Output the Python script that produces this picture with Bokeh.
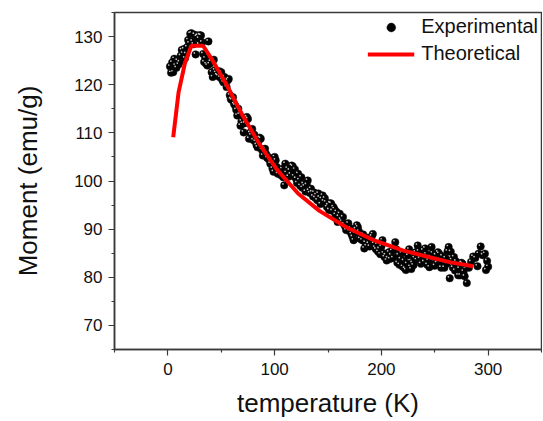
from bokeh.plotting import figure
from bokeh.models import FixedTicker, Legend, LegendItem, ColumnDataSource
from bokeh.embed import file_html
from bokeh.resources import INLINE

# Experimental data: temperature (K) and moment (emu/g)
exp_T = [2, 3, 4, 5, 6, 7, 8, 9, 10, 11, 12, 13, 14, 15, 16, 17, 18, 19, 20,
         21, 22, 23, 24, 25, 26, 27, 28, 29, 30, 31, 32, 33, 34, 35, 36, 37, 38, 39, 40,
         41, 42, 43, 44, 45, 46, 47, 48, 49, 50, 51, 52, 53, 54, 55, 56, 57, 58, 59, 60,
         61, 62, 63, 64, 65, 66, 67, 68, 69, 70, 71, 72, 73, 74, 75, 76, 77, 78, 79, 80,
         81, 82, 83, 84, 85, 86, 87, 88, 89, 90, 91, 92, 93, 94, 95, 96, 97, 98, 99, 100,
         101, 102, 103, 104, 105, 106, 107, 108, 109, 110, 111, 112, 113, 114, 115, 116, 117, 118, 119, 120,
         121, 122, 123, 124, 125, 126, 127, 128, 129, 130, 131, 132, 133, 134, 135, 136, 137, 138, 139, 140,
         141, 142, 143, 144, 145, 146, 147, 148, 149, 150, 151, 152, 153, 154, 155, 156, 157, 158, 159, 160,
         161, 162, 163, 164, 165, 166, 167, 168, 169, 170, 171, 172, 173, 174, 175, 176, 177, 178, 179, 180,
         181, 182, 183, 184, 185, 186, 187, 188, 189, 190, 191, 192, 193, 194, 195, 196, 197, 198, 199, 200,
         201, 202, 203, 204, 205, 206, 207, 208, 209, 210, 211, 212, 213, 214, 215, 216, 217, 218, 219, 220,
         221, 222, 223, 224, 225, 226, 227, 228, 229, 230, 231, 232, 233, 234, 235, 236, 237, 238, 239, 240,
         241, 242, 243, 244, 245, 246, 247, 248, 249, 250, 251, 252, 253, 254, 255, 256, 257, 258, 259, 260,
         261, 262, 263, 264, 265, 266, 267, 268, 269, 270, 271, 272, 273, 274, 275, 276, 277, 278, 280,
         282, 284, 286, 288, 290, 291, 293, 295, 297, 298, 299, 300]
exp_M = [123.8, 122.5, 124.6, 122.6, 125.4, 124.0, 123.5, 125.0, 124.2, 124.7, 126.0, 127.2, 126.5, 127.4, 125.5, 126.4, 127.8, 129.3, 128.6,
         130.6, 130.7, 129.0, 128.4, 130.4, 126.3, 130.0, 130.2, 129.6, 130.3, 130.2, 128.8, 126.4, 124.7, 125.5, 124.3, 124.0, 129.0, 124.3, 124.8,
         122.6, 121.6, 125.2, 123.0, 122.5, 122.0, 121.8, 122.8, 121.5, 122.6, 121.0, 120.5, 121.6, 120.8, 119.5, 120.9, 121.2, 117.8, 117.0, 116.8,
         117.4, 116.0, 115.7, 114.8, 113.6, 115.0, 113.8, 111.5, 112.4, 111.9, 110.1, 112.0, 112.6, 113.3, 112.9, 108.8, 110.0, 109.5, 110.8, 108.5,
         109.6, 108.2, 107.5, 107.0, 108.3, 109.0, 108.8, 106.5, 105.3, 106.2, 106.7, 105.6, 104.8, 105.0, 104.4, 103.6, 104.2, 102.6, 101.9, 105.0,
         104.3, 102.9, 101.5, 102.2, 101.8, 101.2, 102.5, 100.8, 99.1, 103.6, 101.7, 102.6, 100.9, 102.2, 101.4, 103.2, 103.0, 101.0, 102.4, 100.5,
         99.6, 101.5, 100.2, 99.0, 100.8, 98.6, 99.4, 98.9, 97.8, 99.2, 100.1, 98.0, 97.5, 98.4, 97.7, 96.8, 97.6, 96.5, 97.1, 96.0,
         97.4, 96.6, 95.2, 96.3, 97.0, 95.8, 96.4, 95.6, 94.6, 95.0, 94.0, 95.4, 95.3, 93.8, 94.6, 94.2, 93.0, 93.6, 91.5, 92.6,
         93.2, 92.0, 91.6, 92.5, 91.0, 90.6, 89.8, 90.4, 91.2, 89.6, 90.2, 89.0, 88.4, 87.7, 89.2, 90.0, 90.8, 90.4, 89.5, 88.0,
         88.6, 87.7, 88.9, 86.0, 87.2, 86.5, 88.2, 87.0, 86.4, 87.6, 88.5, 89.0, 87.0, 86.2, 85.8, 86.8, 85.3, 85.9, 84.8, 86.4,
         87.7, 85.0, 84.2, 84.6, 83.5, 84.0, 85.2, 83.8, 84.6, 85.5, 84.0, 86.0, 87.3, 85.8, 83.0, 84.6, 82.6, 83.8, 85.0, 82.2,
         83.4, 81.8, 81.5, 82.8, 84.5, 85.8, 82.2, 81.7, 83.0, 82.5, 84.0, 85.2, 83.6, 86.6, 85.4, 83.9, 82.8, 84.4, 85.6, 83.2,
         86.0, 84.8, 82.6, 83.5, 82.1, 84.2, 86.3, 85.0, 83.4, 82.4, 84.6, 83.0, 85.2, 84.9, 83.6, 82.0, 84.4, 83.1, 82.0, 84.0,
         82.8, 85.4, 86.3, 79.8, 85.3, 83.6, 82.0, 84.2, 81.4, 83.3, 82.6, 80.4, 81.8, 80.4, 83.0, 82.8, 81.2, 80.2, 78.8,
         82.0, 83.2, 84.3, 84.0, 82.3, 84.9, 86.4, 84.6, 84.9, 81.5, 83.4, 82.2]

# Theoretical curve
theo_T = [5, 10, 16, 22, 33, 42, 55, 70, 86, 102, 122, 142, 168, 194, 220, 246, 265, 286]
theo_M = [109.1, 118.4, 124.5, 128.1, 128.1, 125.0, 120.0, 113.6, 107.6, 102.4, 97.4, 93.8, 90.3, 87.6, 85.6, 84.1, 83.1, 82.3]

x_major = [0, 100, 200, 300]
x_minor = [-50, 50, 150, 250, 350]
y_major = [70, 80, 90, 100, 110, 120, 130]
y_minor = [65, 75, 85, 95, 105, 115, 125, 135]

FONT = "Liberation Sans"
AX = "#3a3a3a"

p = figure(width=542, height=421, x_range=(-50, 350), y_range=(65, 135),
           output_backend="svg", toolbar_location=None,
           min_border_left=114, min_border_top=12, min_border_right=1, min_border_bottom=72)

p.xgrid.visible = False
p.ygrid.visible = False
p.outline_line_color = AX
p.outline_line_width = 1.5
p.background_fill_color = "white"
p.border_fill_color = "white"

src = ColumnDataSource(dict(x=exp_T, y=exp_M))
r_exp = p.scatter("x", "y", source=src, size=7.5, fill_color="black", line_color="#111111", line_width=0.5)
# specular highlight of the sphere markers (same data, small shift)
hl = ColumnDataSource(dict(x=[t - 1.2 for t in exp_T], y=[m + 0.3 for m in exp_M]))
p.scatter("x", "y", source=hl, size=1.7, fill_color="#e6e6e6", line_color=None, fill_alpha=0.85)
r_theo = p.line(theo_T, theo_M, line_color="#ff0000", line_width=4)

p.xaxis.ticker = FixedTicker(ticks=x_major, minor_ticks=x_minor)
p.yaxis.ticker = FixedTicker(ticks=y_major, minor_ticks=y_minor)

for ax in (p.xaxis[0], p.yaxis[0]):
    ax.axis_line_color = AX
    ax.axis_line_width = 1.5
    ax.major_tick_line_color = AX
    ax.minor_tick_line_color = AX
    ax.major_tick_line_width = 1.2
    ax.minor_tick_line_width = 1.2
    ax.major_tick_out = 6
    ax.major_tick_in = 0
    ax.minor_tick_out = 3
    ax.minor_tick_in = 0
    ax.major_label_text_font = FONT
    ax.major_label_text_font_size = "17px"
    ax.major_label_text_color = "#111111"
    ax.axis_label_text_font = FONT
    ax.axis_label_text_font_style = "normal"
    ax.axis_label_text_color = "#111111"

p.xaxis.axis_label = "temperature (K)"
p.xaxis.axis_label_text_font_size = "26px"
p.xaxis.major_label_standoff = 7
p.xaxis.axis_label_standoff = 10

p.yaxis.axis_label = "Moment (emu/g)"
p.yaxis.axis_label_text_font_size = "26px"
p.yaxis.major_label_standoff = 6
p.yaxis.axis_label_standoff = 28

legend = Legend(items=[LegendItem(label="Experimental", renderers=[r_exp]),
                       LegendItem(label="Theoretical", renderers=[r_theo])],
                location="top_right", border_line_alpha=0, background_fill_alpha=0,
                label_text_font=FONT, label_text_font_size="20px", label_text_color="#111111",
                glyph_width=47, glyph_height=22, label_standoff=7, spacing=4,
                padding=3, margin=0)
p.add_layout(legend)

open("out.html", "w").write(file_html(p, INLINE))
